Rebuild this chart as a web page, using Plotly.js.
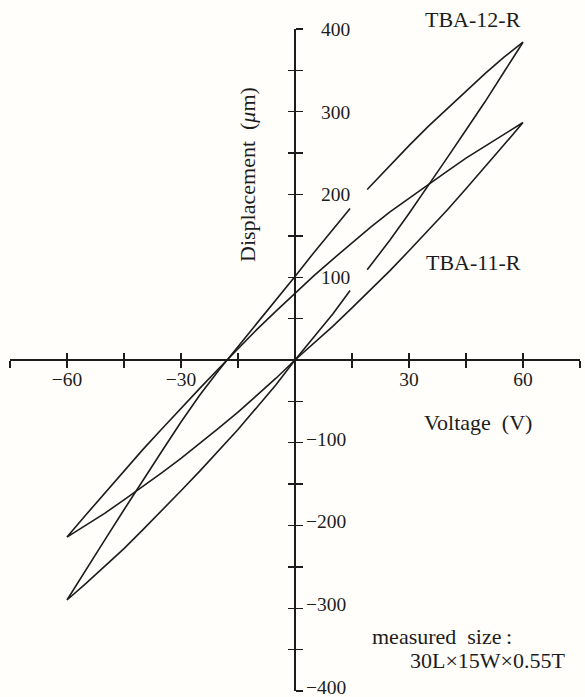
<!DOCTYPE html>
<html>
<head>
<meta charset="utf-8">
<script src="https://cdn.plot.ly/plotly-3.0.1.min.js"></script>
<style>
  html, body { margin: 0; padding: 0; background: #fffefa; }
  #chart { width: 585px; height: 697px; }
</style>
</head>
<body>
<div id="chart"></div>
<script>
// Displacement vs. applied voltage for two piezo actuators (hysteresis loops).

// TBA-12-R: descending branch (upper) and ascending branch (lower); null = break in the drawn line
const tba12VoltDown = [60, 55, 50, 45, 40, 35, 30, 25, 19, 17, 14.5, 10, 5, 0, -5, -10, -15, -20, -25, -30, -35, -40, -45, -50, -55, -60];
const tba12Upper    = [384, 366, 346, 325, 304, 282, 259, 235, 206, null, 183, 158, 130, 101, 73, 45, 16, -12, -42, -75, -110, -145, -181, -217, -253, -290];
const tba12VoltUp   = [-60, -55, -50, -45, -40, -35, -30, -25, -20, -15, -10, -5, 0, 5, 10, 14.5, 17, 19, 25, 30, 35, 40, 45, 50, 55, 60];
const tba12Lower    = [-290, -270, -249, -228, -205, -182, -158, -134, -109, -84, -57, -30, 0, 28, 56, 84, null, 109, 145, 177, 210, 244, 278, 312, 348, 384];

// TBA-11-R
const tba11VoltDown = [60, 55, 50, 45, 40, 35, 30, 25, 20, 15, 10, 5, 0, -5, -10, -15, -20, -25, -30, -35, -40, -45, -50, -55, -60];
const tba11Upper    = [287, 273, 259, 244, 228, 212, 196, 179, 161, 142, 122, 102, 81, 59, 37, 14, -10, -34, -58, -83, -108, -134, -160, -187, -214];
const tba11VoltUp   = [-60, -55, -50, -45, -40, -35, -30, -25, -20, -15, -10, -5, 0, 5, 10, 15, 20, 25, 30, 35, 40, 45, 50, 55, 60];
const tba11Lower    = [-214, -200, -185, -169, -153, -136, -119, -101, -82, -63, -43, -22, 0, 20, 41, 63, 85, 108, 132, 156, 181, 207, 233, 260, 287];

// Axis ticks and labels
const xTickVals  = [-75, -60, -45, -30, -15, 0, 15, 30, 45, 60, 75];
const xTickText  = ['', '\u221260', '', '\u221230', '', '', '', '30', '', '60', ''];
const yTickVals  = [-400, -350, -300, -250, -200, -150, -100, -50, 0, 50, 100, 150, 200, 250, 300, 350, 400];
const yTickPos   = ['', '', '', '', '', '', '', '', '', '', '100', '', '200', '', '300', '', '400'];
const yTickNeg   = ['\u2212400', '', '\u2212300', '', '\u2212200', '', '\u2212100', '', '', '', '', '', '', '', '', '', ''];

const INK = '#1c1c1c';
const FONT = 'Liberation Serif, Times New Roman, serif';

const loopLine = { color: INK, width: 1.6 };

const traces = [
  {
    name: 'TBA-12-R',
    x: tba12VoltDown.concat(tba12VoltUp),
    y: tba12Upper.concat(tba12Lower),
    type: 'scatter', mode: 'lines', line: loopLine,
    connectgaps: false, hoverinfo: 'skip', showlegend: false,
    xaxis: 'x', yaxis: 'y'
  },
  {
    name: 'TBA-11-R',
    x: tba11VoltDown.concat(tba11VoltUp),
    y: tba11Upper.concat(tba11Lower),
    type: 'scatter', mode: 'lines', line: loopLine,
    connectgaps: false, hoverinfo: 'skip', showlegend: false,
    xaxis: 'x2', yaxis: 'y2'
  }
];

const tickFont = { family: FONT, size: 19.5, color: INK };
const textFont = { family: FONT, size: 22, color: INK };

const axisCommon = {
  showgrid: false,
  showline: false,
  tickmode: 'array',
  tickcolor: INK,
  tickwidth: 1.3,
  ticklen: 7,
  tickfont: tickFont,
  fixedrange: true,
  anchor: 'free',
  position: 0.5,
  ticklabeloverflow: 'allow'
};

const layout = {
  width: 585,
  height: 697,
  margin: { l: 10, r: 5, t: 29, b: 6 },
  paper_bgcolor: '#fffefa',
  plot_bgcolor: '#fffefa',
  showlegend: false,
  xaxis: Object.assign({}, axisCommon, {
    range: [-75, 75], domain: [0, 1],
    zeroline: true, zerolinecolor: INK, zerolinewidth: 1.6,
    ticks: 'outside', tickvals: xTickVals, ticktext: xTickText,
    ticklabelstandoff: -5
  }),
  xaxis2: Object.assign({}, axisCommon, {
    range: [-75, 75], overlaying: 'x', matches: 'x',
    zeroline: false,
    ticks: 'inside', tickvals: xTickVals, showticklabels: false
  }),
  yaxis: Object.assign({}, axisCommon, {
    range: [-400, 400], domain: [0, 1], side: 'right',
    zeroline: true, zerolinecolor: INK, zerolinewidth: 1.6,
    ticks: 'outside', tickvals: yTickVals, ticktext: yTickPos,
    ticklabelstandoff: 14
  }),
  yaxis2: Object.assign({}, axisCommon, {
    range: [-400, 400], overlaying: 'y', matches: 'y', side: 'right',
    zeroline: false,
    ticks: 'inside', tickvals: yTickVals, ticktext: yTickNeg,
    ticklabelstandoff: 10,
    ticklabelshift: -4
  }),
  annotations: [
    { text: 'TBA-12-R', xref: 'paper', yref: 'paper', x: 0.812, y: 1.014,
      xanchor: 'center', yanchor: 'middle', showarrow: false, font: textFont },
    { text: 'TBA-11-R', xref: 'paper', yref: 'paper', x: 0.814, y: 0.648,
      xanchor: 'center', yanchor: 'middle', showarrow: false, font: textFont },
    { text: 'Voltage\u2002(V)', xref: 'paper', yref: 'paper', x: 0.821, y: 0.406,
      xanchor: 'center', yanchor: 'middle', showarrow: false, font: textFont },
    { text: 'Displacement\u2002(<i>\u03bc</i>m)', xref: 'paper', yref: 'paper', x: 0.4175, y: 0.781,
      xanchor: 'center', yanchor: 'middle', textangle: -90, showarrow: false, font: textFont },
    { text: 'measured\u2002size\u2009:', xref: 'paper', yref: 'paper', x: 0.632, y: 0.0816,
      xanchor: 'left', yanchor: 'middle', showarrow: false, font: textFont },
    { text: '30L\u00d715W\u00d70.55T', xref: 'paper', yref: 'paper', x: 0.699, y: 0.0468,
      xanchor: 'left', yanchor: 'middle', showarrow: false, font: textFont }
  ]
};

Plotly.newPlot('chart', traces, layout, { staticPlot: true, displayModeBar: false });
</script>
</body>
</html>
